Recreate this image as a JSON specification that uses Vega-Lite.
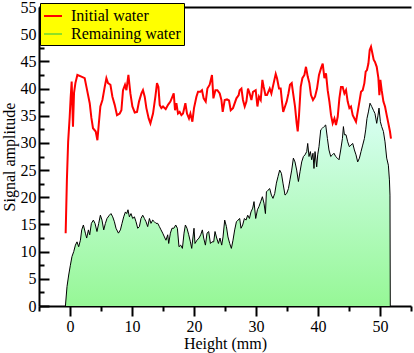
{
  "$schema": "https://vega.github.io/schema/vega-lite/v6.json",
  "width": 372,
  "height": 299,
  "autosize": {"type": "none"},
  "padding": {"left": 39, "top": 7, "right": 3, "bottom": 47},
  "background": "white",
  "config": {
    "view": {"stroke": null},
    "font": "Liberation Serif",
    "axis": {
      "labelFont": "Liberation Serif",
      "labelFontSize": 16,
      "labelColor": "#000000",
      "titleFont": "Liberation Serif",
      "titleFontSize": 16,
      "titleFontWeight": "normal",
      "titleColor": "#000000",
      "tickColor": "#000000",
      "tickWidth": 2,
      "domainColor": "#000000",
      "domainWidth": 2,
      "grid": false
    }
  },
  "datasets": {
    "initial": [
      {"h": -0.7, "v": 13.4}, {"h": -0.5, "v": 23.2}, {"h": -0.3, "v": 30.2}, {"h": -0.05, "v": 34.8}, {"h": 0.1, "v": 38.2}, {"h": 0.27, "v": 41.3}, {"h": 0.48, "v": 33}, {"h": 0.65, "v": 39.2}, {"h": 0.87, "v": 41}, {"h": 1.19, "v": 42.5}, {"h": 1.84, "v": 42.2}, {"h": 2.37, "v": 41.9}, {"h": 2.65, "v": 40.3}, {"h": 3.18, "v": 37.3}, {"h": 3.45, "v": 34.6}, {"h": 3.71, "v": 32.7}, {"h": 4.15, "v": 32.1}, {"h": 4.42, "v": 30.5}, {"h": 4.63, "v": 33.3}, {"h": 4.9, "v": 36.7}, {"h": 5.23, "v": 37.9}, {"h": 5.6, "v": 40.3}, {"h": 5.87, "v": 41.9}, {"h": 6.13, "v": 41}, {"h": 6.52, "v": 40.7}, {"h": 6.84, "v": 38.5}, {"h": 7.21, "v": 37}, {"h": 7.58, "v": 35.1}, {"h": 8.02, "v": 35.4}, {"h": 8.29, "v": 36}, {"h": 8.55, "v": 39.7}, {"h": 8.87, "v": 40.7}, {"h": 9.1, "v": 39.7}, {"h": 9.42, "v": 42.5}, {"h": 9.74, "v": 39.1}, {"h": 10.06, "v": 36.7}, {"h": 10.44, "v": 35.6}, {"h": 10.81, "v": 35.7}, {"h": 11.13, "v": 37.6}, {"h": 11.52, "v": 39.1}, {"h": 11.77, "v": 39.7}, {"h": 12.05, "v": 38.5}, {"h": 12.32, "v": 36.4}, {"h": 12.69, "v": 34.5}, {"h": 12.97, "v": 33.6}, {"h": 13.39, "v": 35.4}, {"h": 13.77, "v": 38.5}, {"h": 14.03, "v": 41}, {"h": 14.26, "v": 40.3}, {"h": 14.47, "v": 37}, {"h": 14.74, "v": 36.4}, {"h": 15.0, "v": 36.7}, {"h": 15.44, "v": 36.2}, {"h": 15.81, "v": 37}, {"h": 16.19, "v": 37.6}, {"h": 16.52, "v": 38.5}, {"h": 16.73, "v": 39.1}, {"h": 16.94, "v": 36}, {"h": 17.16, "v": 37.3}, {"h": 17.42, "v": 35.4}, {"h": 17.69, "v": 35.7}, {"h": 17.97, "v": 35.1}, {"h": 18.23, "v": 35.4}, {"h": 18.61, "v": 37.3}, {"h": 18.87, "v": 35.4}, {"h": 19.19, "v": 34.5}, {"h": 19.42, "v": 35.4}, {"h": 19.74, "v": 33.9}, {"h": 20.0, "v": 36.4}, {"h": 20.39, "v": 38.5}, {"h": 20.65, "v": 39.4}, {"h": 21.03, "v": 39.4}, {"h": 21.29, "v": 39.7}, {"h": 21.56, "v": 38.2}, {"h": 21.89, "v": 37.6}, {"h": 22.16, "v": 40}, {"h": 22.53, "v": 40.7}, {"h": 22.9, "v": 42.5}, {"h": 23.13, "v": 38.2}, {"h": 23.45, "v": 39.7}, {"h": 23.77, "v": 39.7}, {"h": 24.15, "v": 39.1}, {"h": 24.42, "v": 37.9}, {"h": 24.63, "v": 35.7}, {"h": 24.95, "v": 37.9}, {"h": 25.32, "v": 38}, {"h": 25.65, "v": 37.8}, {"h": 25.92, "v": 36}, {"h": 26.29, "v": 36.4}, {"h": 26.84, "v": 38.2}, {"h": 27.21, "v": 38.8}, {"h": 27.37, "v": 39.7}, {"h": 27.65, "v": 40}, {"h": 27.9, "v": 37.9}, {"h": 28.18, "v": 36.7}, {"h": 28.45, "v": 37.6}, {"h": 28.71, "v": 40}, {"h": 28.98, "v": 39.1}, {"h": 29.26, "v": 37.9}, {"h": 29.52, "v": 39.4}, {"h": 29.95, "v": 39.7}, {"h": 30.23, "v": 36.7}, {"h": 30.48, "v": 38.5}, {"h": 30.76, "v": 37.9}, {"h": 31.03, "v": 41.6}, {"h": 31.24, "v": 40.3}, {"h": 31.52, "v": 38.8}, {"h": 31.77, "v": 38.8}, {"h": 32.21, "v": 40}, {"h": 32.48, "v": 39.1}, {"h": 32.85, "v": 41}, {"h": 33.18, "v": 42.7}, {"h": 33.39, "v": 41.9}, {"h": 33.71, "v": 40}, {"h": 33.98, "v": 40}, {"h": 34.19, "v": 37.6}, {"h": 34.39, "v": 35.7}, {"h": 34.68, "v": 36.7}, {"h": 34.95, "v": 37.6}, {"h": 35.23, "v": 39.1}, {"h": 35.48, "v": 40.7}, {"h": 35.76, "v": 41}, {"h": 36.03, "v": 38.8}, {"h": 36.29, "v": 36.7}, {"h": 36.56, "v": 33.6}, {"h": 36.73, "v": 32.1}, {"h": 36.94, "v": 35.1}, {"h": 37.21, "v": 40.3}, {"h": 37.48, "v": 41.9}, {"h": 37.81, "v": 42.5}, {"h": 38.06, "v": 44}, {"h": 38.34, "v": 42.2}, {"h": 38.61, "v": 41}, {"h": 38.87, "v": 38.8}, {"h": 39.19, "v": 37.9}, {"h": 39.52, "v": 38.5}, {"h": 39.84, "v": 40}, {"h": 40.16, "v": 42.5}, {"h": 40.48, "v": 43.7}, {"h": 40.76, "v": 44.6}, {"h": 41.03, "v": 41.9}, {"h": 41.29, "v": 42.8}, {"h": 41.56, "v": 39.7}, {"h": 41.84, "v": 37.6}, {"h": 42.1, "v": 35.1}, {"h": 42.37, "v": 33.6}, {"h": 42.65, "v": 34.5}, {"h": 42.9, "v": 33.3}, {"h": 43.18, "v": 34.8}, {"h": 43.45, "v": 38.2}, {"h": 43.71, "v": 40.3}, {"h": 43.98, "v": 40.3}, {"h": 44.26, "v": 39.1}, {"h": 44.52, "v": 39.7}, {"h": 44.79, "v": 37.6}, {"h": 45.06, "v": 36.4}, {"h": 45.32, "v": 36.7}, {"h": 45.6, "v": 35.1}, {"h": 45.87, "v": 34.5}, {"h": 46.13, "v": 33.9}, {"h": 46.4, "v": 35.7}, {"h": 46.68, "v": 37.6}, {"h": 46.94, "v": 39.4}, {"h": 47.21, "v": 39.7}, {"h": 47.48, "v": 41}, {"h": 47.69, "v": 43.1}, {"h": 47.9, "v": 43.4}, {"h": 48.13, "v": 44.6}, {"h": 48.34, "v": 47.1}, {"h": 48.55, "v": 47.7}, {"h": 48.77, "v": 46.5}, {"h": 48.98, "v": 45.3}, {"h": 49.19, "v": 44.9}, {"h": 49.47, "v": 44}, {"h": 49.74, "v": 41.9}, {"h": 49.9, "v": 38.8}, {"h": 50.06, "v": 41.6}, {"h": 50.27, "v": 39.7}, {"h": 50.55, "v": 37.6}, {"h": 50.81, "v": 36.7}, {"h": 51.08, "v": 35.1}, {"h": 51.35, "v": 33.6}, {"h": 51.61, "v": 32.1}, {"h": 51.77, "v": 30.8}
    ],
    "remaining": [
      {"h": -0.74, "v": 0}, {"h": -0.48, "v": 3.6}, {"h": -0.21, "v": 5.7}, {"h": 0.06, "v": 7.5}, {"h": 0.32, "v": 9.1}, {"h": 0.6, "v": 10}, {"h": 0.87, "v": 11.2}, {"h": 1.13, "v": 11.8}, {"h": 1.4, "v": 10.9}, {"h": 1.68, "v": 12.1}, {"h": 1.89, "v": 14}, {"h": 2.16, "v": 14.9}, {"h": 2.48, "v": 13.4}, {"h": 2.69, "v": 12.5}, {"h": 2.97, "v": 14}, {"h": 3.18, "v": 13.1}, {"h": 3.45, "v": 15.2}, {"h": 3.77, "v": 15.8}, {"h": 4.03, "v": 15.2}, {"h": 4.35, "v": 13.7}, {"h": 4.63, "v": 15.2}, {"h": 4.9, "v": 16.7}, {"h": 5.16, "v": 15.8}, {"h": 5.44, "v": 14}, {"h": 5.71, "v": 15.2}, {"h": 5.97, "v": 16.1}, {"h": 6.35, "v": 16.7}, {"h": 6.61, "v": 17}, {"h": 6.89, "v": 16.4}, {"h": 7.16, "v": 15.5}, {"h": 7.42, "v": 14.3}, {"h": 7.81, "v": 13.4}, {"h": 8.13, "v": 14}, {"h": 8.39, "v": 15.2}, {"h": 8.66, "v": 16.4}, {"h": 8.94, "v": 17.3}, {"h": 9.15, "v": 17}, {"h": 9.35, "v": 17.7}, {"h": 9.58, "v": 16.4}, {"h": 9.84, "v": 17}, {"h": 10.11, "v": 16.1}, {"h": 10.39, "v": 16.4}, {"h": 10.65, "v": 15.5}, {"h": 10.92, "v": 14.3}, {"h": 11.19, "v": 14.6}, {"h": 11.45, "v": 16.1}, {"h": 11.73, "v": 16.7}, {"h": 12.0, "v": 16.1}, {"h": 12.26, "v": 15.5}, {"h": 12.53, "v": 14.6}, {"h": 12.81, "v": 16.1}, {"h": 13.06, "v": 15.2}, {"h": 13.34, "v": 15.8}, {"h": 13.61, "v": 15.5}, {"h": 13.87, "v": 15.2}, {"h": 14.15, "v": 15.2}, {"h": 14.42, "v": 14.6}, {"h": 14.68, "v": 14}, {"h": 14.95, "v": 13.4}, {"h": 15.23, "v": 12.7}, {"h": 15.48, "v": 12.1}, {"h": 15.76, "v": 13.1}, {"h": 15.92, "v": 11.5}, {"h": 16.19, "v": 13.4}, {"h": 16.45, "v": 14.3}, {"h": 16.75, "v": 14.3}, {"h": 17.05, "v": 14.9}, {"h": 17.32, "v": 14.3}, {"h": 17.58, "v": 10.9}, {"h": 17.85, "v": 11.2}, {"h": 18.13, "v": 10.6}, {"h": 18.39, "v": 13.4}, {"h": 18.61, "v": 14.9}, {"h": 18.87, "v": 14.3}, {"h": 19.15, "v": 13.1}, {"h": 19.42, "v": 11.8}, {"h": 19.63, "v": 10.6}, {"h": 19.84, "v": 12.7}, {"h": 20.0, "v": 14.3}, {"h": 20.16, "v": 11.5}, {"h": 20.48, "v": 12.1}, {"h": 20.81, "v": 12.5}, {"h": 21.08, "v": 13.1}, {"h": 21.35, "v": 14}, {"h": 21.56, "v": 12.5}, {"h": 21.84, "v": 11.2}, {"h": 22.1, "v": 13.4}, {"h": 22.37, "v": 13.7}, {"h": 22.65, "v": 11.5}, {"h": 22.9, "v": 11.8}, {"h": 23.18, "v": 11.8}, {"h": 23.39, "v": 13.7}, {"h": 23.66, "v": 12.5}, {"h": 23.94, "v": 11.5}, {"h": 24.19, "v": 12.5}, {"h": 24.47, "v": 11.2}, {"h": 24.68, "v": 12.7}, {"h": 24.95, "v": 15.8}, {"h": 25.23, "v": 14.6}, {"h": 25.48, "v": 12.7}, {"h": 25.76, "v": 11.5}, {"h": 26.03, "v": 10.6}, {"h": 26.29, "v": 12.1}, {"h": 26.56, "v": 14}, {"h": 26.84, "v": 15.5}, {"h": 27.1, "v": 15.8}, {"h": 27.37, "v": 16.1}, {"h": 27.58, "v": 14.3}, {"h": 27.85, "v": 14.9}, {"h": 28.13, "v": 16.1}, {"h": 28.39, "v": 15.8}, {"h": 28.66, "v": 16.7}, {"h": 28.94, "v": 16.1}, {"h": 29.19, "v": 17.3}, {"h": 29.47, "v": 18}, {"h": 29.68, "v": 19.2}, {"h": 29.95, "v": 16.1}, {"h": 30.23, "v": 17.7}, {"h": 30.48, "v": 18.3}, {"h": 30.76, "v": 19.2}, {"h": 31.03, "v": 20.1}, {"h": 31.29, "v": 18.9}, {"h": 31.52, "v": 17}, {"h": 31.68, "v": 21}, {"h": 31.94, "v": 21.3}, {"h": 32.21, "v": 21.6}, {"h": 32.48, "v": 20.4}, {"h": 32.74, "v": 19.8}, {"h": 33.02, "v": 20.7}, {"h": 33.29, "v": 22.6}, {"h": 33.55, "v": 23.8}, {"h": 33.82, "v": 25}, {"h": 34.1, "v": 24.4}, {"h": 34.35, "v": 22.6}, {"h": 34.68, "v": 20.4}, {"h": 34.95, "v": 20.7}, {"h": 35.23, "v": 21.6}, {"h": 35.48, "v": 23.2}, {"h": 35.76, "v": 25}, {"h": 36.03, "v": 27.2}, {"h": 36.29, "v": 26.5}, {"h": 36.56, "v": 25}, {"h": 36.84, "v": 22.9}, {"h": 37.1, "v": 24.7}, {"h": 37.37, "v": 26.5}, {"h": 37.65, "v": 27.5}, {"h": 37.9, "v": 27.8}, {"h": 38.18, "v": 28.4}, {"h": 38.34, "v": 29.9}, {"h": 38.55, "v": 27.5}, {"h": 38.77, "v": 28.4}, {"h": 38.98, "v": 26.9}, {"h": 39.19, "v": 28.1}, {"h": 39.35, "v": 25.3}, {"h": 39.52, "v": 28.4}, {"h": 39.79, "v": 25.6}, {"h": 39.95, "v": 27.8}, {"h": 40.16, "v": 29.3}, {"h": 40.44, "v": 32.4}, {"h": 40.71, "v": 32.7}, {"h": 40.97, "v": 33}, {"h": 41.24, "v": 33.3}, {"h": 41.52, "v": 30.8}, {"h": 41.77, "v": 28.7}, {"h": 42.05, "v": 27.5}, {"h": 42.32, "v": 27.8}, {"h": 42.58, "v": 28.1}, {"h": 42.85, "v": 27.5}, {"h": 43.13, "v": 27.2}, {"h": 43.39, "v": 26.9}, {"h": 43.66, "v": 28.7}, {"h": 43.94, "v": 30.8}, {"h": 44.1, "v": 33}, {"h": 44.26, "v": 31.5}, {"h": 44.52, "v": 31.5}, {"h": 44.79, "v": 30.2}, {"h": 45.06, "v": 29.3}, {"h": 45.32, "v": 29.6}, {"h": 45.6, "v": 29.9}, {"h": 45.87, "v": 28.7}, {"h": 46.13, "v": 27.8}, {"h": 46.4, "v": 26.5}, {"h": 46.68, "v": 27.2}, {"h": 46.94, "v": 28.4}, {"h": 47.21, "v": 29.6}, {"h": 47.48, "v": 30.8}, {"h": 47.69, "v": 32.4}, {"h": 47.9, "v": 34.5}, {"h": 48.13, "v": 35.7}, {"h": 48.39, "v": 37.3}, {"h": 48.66, "v": 36.7}, {"h": 48.94, "v": 36}, {"h": 49.19, "v": 35.4}, {"h": 49.47, "v": 33.6}, {"h": 49.68, "v": 35.1}, {"h": 49.84, "v": 36.4}, {"h": 50.06, "v": 33.9}, {"h": 50.27, "v": 33}, {"h": 50.55, "v": 32.1}, {"h": 50.81, "v": 30.2}, {"h": 51.08, "v": 27.2}, {"h": 51.35, "v": 25.9}, {"h": 51.52, "v": 23.2}, {"h": 51.61, "v": 20.4}, {"h": 51.66, "v": 0}
    ]
  },
  "resolve": {"axis": {"x": "independent", "y": "independent"}},
  "layer": [
    {
      "data": {"name": "remaining"},
      "mark": {
        "type": "area",
        "line": false,
        "color": {
          "gradient": "linear",
          "x1": 0, "y1": 1, "x2": 0, "y2": 0,
          "stops": [
            {"offset": 0, "color": "#96f796"},
            {"offset": 1, "color": "#dcfff8"}
          ]
        }
      },
      "encoding": {
        "x": {
          "field": "h", "type": "quantitative",
          "scale": {"domain": [-5, 55], "nice": false, "zero": false},
          "axis": {"orient": "bottom", "values": [0, 10, 20, 30, 40, 50], "tickSize": 10, "labelPadding": 2, "labelBaseline": "top", "title": "Height (mm)", "titlePadding": 1}
        },
        "y": {
          "field": "v", "type": "quantitative", "stack": null,
          "scale": {"domain": [0, 55], "nice": false, "zero": false},
          "axis": {"orient": "left", "values": [0, 5, 10, 15, 20, 25, 30, 35, 40, 45, 50, 55], "tickSize": -10, "labelPadding": 13, "title": "Signal amplitude", "titlePadding": 3}
        }
      }
    },
    {
      "data": {"name": "remaining"},
      "mark": {"type": "line", "color": "#000000", "strokeWidth": 1},
      "encoding": {
        "x": {
          "field": "h", "type": "quantitative",
          "scale": {"domain": [-5, 55], "nice": false, "zero": false},
          "axis": {"orient": "bottom", "values": [-5, 5, 15, 25, 35, 45, 55], "tickSize": 5, "labels": false, "domain": false, "title": null}
        },
        "y": {
          "field": "v", "type": "quantitative",
          "scale": {"domain": [0, 55], "nice": false, "zero": false},
          "axis": {"orient": "left", "values": [2.5, 7.5, 12.5, 17.5, 22.5, 27.5, 32.5, 37.5, 42.5, 47.5, 52.5], "tickSize": -5, "labels": false, "domain": false, "title": null}
        }
      }
    },
    {
      "data": {"name": "initial"},
      "mark": {"type": "line", "strokeWidth": 2},
      "encoding": {
        "x": {
          "field": "h", "type": "quantitative",
          "scale": {"domain": [-5, 55], "nice": false, "zero": false},
          "axis": {"orient": "top", "ticks": false, "labels": false, "title": null, "domain": true}
        },
        "y": {
          "field": "v", "type": "quantitative",
          "scale": {"domain": [0, 55], "nice": false, "zero": false},
          "axis": null
        },
        "color": {
          "datum": "Initial water", "type": "nominal",
          "scale": {"domain": ["Initial water", "Remaining water"], "range": ["#ff0000", "#8fe025"]},
          "legend": {
            "title": null, "orient": "none", "legendX": 1, "legendY": -4,
            "fillColor": "#ffff00", "strokeColor": "#000000", "padding": 3,
            "labelFont": "Liberation Serif", "labelFontSize": 16, "labelColor": "#000000",
            "symbolSize": 324, "symbolStrokeWidth": 2, "labelOffset": 8, "rowPadding": 0, "zindex": 2
          }
        }
      }
    }
  ]
}
